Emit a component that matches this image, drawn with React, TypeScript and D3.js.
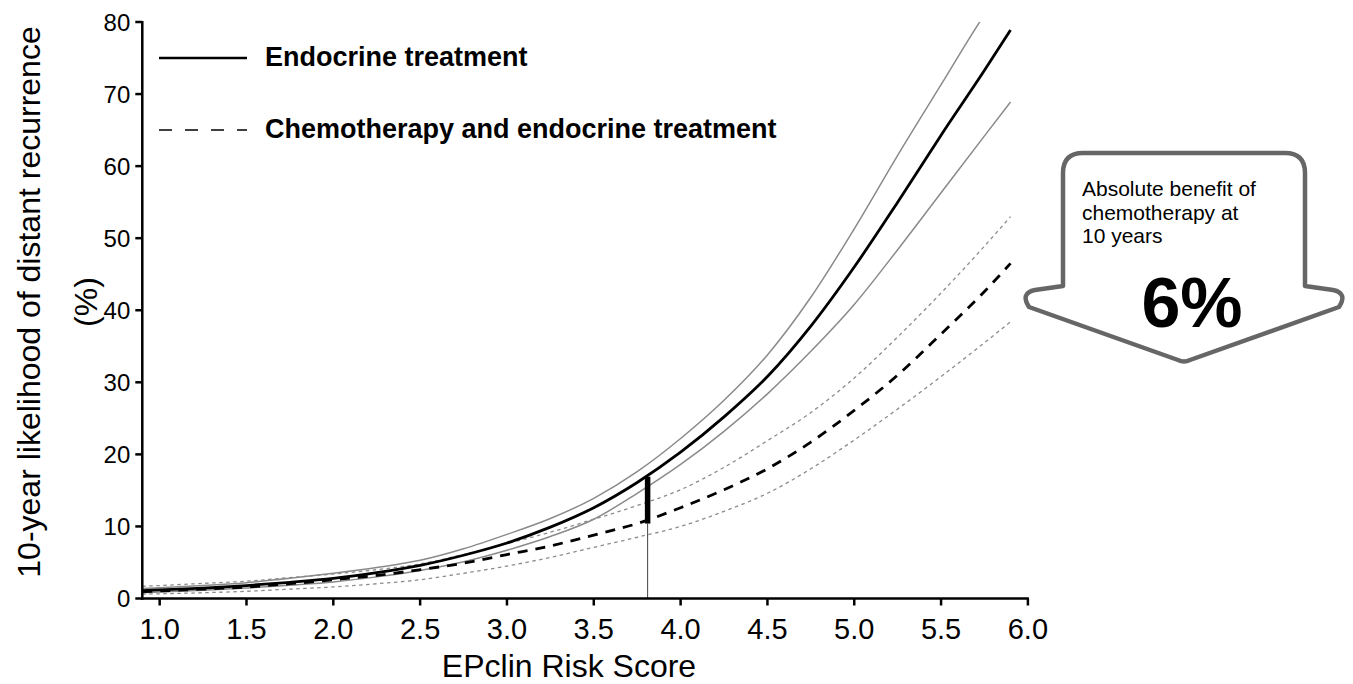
import React from "react";
import * as d3 from "d3";

// ---- data ----
const scores = [0.9, 1.0, 1.25, 1.5, 1.75, 2.0, 2.25, 2.5, 2.75, 3.0, 3.25, 3.5, 3.75, 4.0, 4.25, 4.5, 4.75, 5.0, 5.25, 5.5, 5.75, 5.9];
const endocrine = [1.1, 1.2, 1.45, 1.8, 2.25, 2.8, 3.6, 4.6, 6.0, 7.7, 9.9, 12.6, 16.1, 20.3, 25.2, 30.8, 37.8, 46.0, 55.0, 64.3, 73.3, 78.9];
const endocrineUpper = [1.4, 1.5, 1.8, 2.2, 2.8, 3.5, 4.3, 5.3, 6.9, 8.9, 11.1, 13.9, 17.6, 22.2, 27.5, 33.8, 41.8, 51.3, 61.5, 71.3, 81.0, 86.0];
const endocrineLower = [0.8, 0.9, 1.15, 1.45, 1.85, 2.3, 3.0, 3.9, 5.1, 6.7, 8.6, 11.0, 14.6, 18.6, 23.2, 28.4, 34.3, 40.8, 48.4, 56.3, 64.2, 68.9];
const chemo = [0.95, 1.05, 1.3, 1.6, 2.05, 2.6, 3.2, 4.0, 4.9, 6.1, 7.3, 8.8, 10.4, 12.6, 15.1, 18.0, 21.7, 26.1, 31.0, 36.7, 42.6, 46.5];
const chemoUpper = [1.7, 1.8, 2.1, 2.4, 2.9, 3.4, 4.0, 4.8, 6.1, 7.6, 9.2, 11.0, 12.9, 15.1, 18.2, 21.9, 25.8, 30.6, 36.3, 42.4, 48.9, 53.0];
const chemoLower = [0.6, 0.65, 0.8, 1.0, 1.3, 1.6, 2.05, 2.6, 3.5, 4.5, 5.7, 7.1, 8.5, 10.0, 12.1, 14.6, 18.0, 22.0, 26.3, 30.8, 35.5, 38.4];

const xTicks = [1.0, 1.5, 2.0, 2.5, 3.0, 3.5, 4.0, 4.5, 5.0, 5.5, 6.0];
const yTicks = [0, 10, 20, 30, 40, 50, 60, 70, 80];

const markerScore = 3.81;
const markerEndocrine = 16.9;
const markerChemo = 10.4;

const legendLabels = ["Endocrine treatment", "Chemotherapy and endocrine treatment"];
const calloutLines = ["Absolute benefit of", "chemotherapy at", "10 years"];
const calloutValue = "6%";

const FONT = "'Liberation Sans', Arial, Helvetica, sans-serif";

export default function App() {
  const W = 1353;
  const H = 684;
  const x = d3.scaleLinear().domain([0.9, 6.0]).range([142.3, 1027.9]);
  const y = d3.scaleLinear().domain([0, 80]).range([598.5, 22]);

  const line = (vals: number[]) =>
    d3
      .line<number>()
      .x((_, i) => x(scores[i]))
      .y((d) => y(d))
      .curve(d3.curveMonotoneX)(vals) as string;

  const x0 = x.range()[0];
  const x1 = x.range()[1];
  const yb = y(0);
  const yt = y(80);

  return (
    <svg
      width={W}
      height={H}
      style={{ position: "absolute", left: 0, top: 0, background: "#fff" }}
      fontFamily={FONT}
    >
      <defs>
        <clipPath id="plotClip">
          <rect x={x0} y={yt} width={x1 - x0 + 10} height={yb - yt} />
        </clipPath>
      </defs>

      <g clipPath="url(#plotClip)" fill="none">
        <path d={line(chemoUpper)} stroke="#8c8c8c" strokeWidth={1.3} strokeDasharray="3.5,3.5" />
        <path d={line(chemoLower)} stroke="#8c8c8c" strokeWidth={1.3} strokeDasharray="3.5,3.5" />
        <path d={line(endocrineUpper)} stroke="#8a8a8a" strokeWidth={1.5} />
        <path d={line(endocrineLower)} stroke="#8a8a8a" strokeWidth={1.5} />
        <path d={line(chemo)} stroke="#000" strokeWidth={2.8} strokeDasharray="10,8" />
        <path d={line(endocrine)} stroke="#000" strokeWidth={2.8} />
      </g>

      {/* marker at score */}
      <line x1={x(markerScore)} x2={x(markerScore)} y1={yb} y2={y(markerChemo)} stroke="#444" strokeWidth={1} />
      <line x1={x(markerScore)} x2={x(markerScore)} y1={y(markerChemo)} y2={y(markerEndocrine)} stroke="#000" strokeWidth={5.5} />

      {/* axes */}
      <g stroke="#000" strokeWidth={2.5}>
        <line x1={x0} x2={x0} y1={yt - 1} y2={yb + 1.2} />
        <line x1={x0 - 1.2} x2={x1 + 1} y1={yb} y2={yb} />
        {yTicks.map((t) => (
          <line key={"yt" + t} x1={x0 - 7} x2={x0} y1={y(t)} y2={y(t)} />
        ))}
        {xTicks.map((t) => (
          <line key={"xt" + t} x1={x(t)} x2={x(t)} y1={yb} y2={yb + 7} />
        ))}
      </g>
      {yTicks.map((t) => (
        <text key={"yl" + t} x={x0 - 12} y={y(t)} dy="0.36em" textAnchor="end" fontSize={24} fill="#000">
          {t}
        </text>
      ))}
      {xTicks.map((t) => (
        <text key={"xl" + t} x={x(t)} y={639} textAnchor="middle" fontSize={29} fill="#000">
          {t.toFixed(1)}
        </text>
      ))}

      {/* axis titles */}
      <text x={569} y={677} textAnchor="middle" fontSize={32} fill="#000">
        EPclin Risk Score
      </text>
      <g transform="translate(40,302) rotate(-90)">
        <text x={0} y={0} textAnchor="middle" fontSize={32} fill="#000">
          10-year likelihood of distant recurrence
        </text>
      </g>
      <g transform="translate(97,302) rotate(-90)">
        <text x={0} y={0} textAnchor="middle" fontSize={32} fill="#000">
          (%)
        </text>
      </g>

      {/* legend */}
      <line x1={159} x2={247} y1={58} y2={58} stroke="#000" strokeWidth={2.5} />
      <text x={265} y={66} fontSize={27} fontWeight="bold" fill="#000">
        {legendLabels[0]}
      </text>
      <line x1={159} x2={247} y1={130} y2={130} stroke="#000" strokeWidth={1.5} strokeDasharray="13,13" />
      <text x={265} y={138} fontSize={27} fontWeight="bold" fill="#000">
        {legendLabels[1]}
      </text>

      {/* callout arrow */}
      <path
        d="M1083,153 H1285 Q1305,153 1305,173 V286 L1333,290 Q1348,293 1339,307 L1190,360 Q1184,363 1178,360 L1029,307 Q1020,293 1035,290 L1063,286 V173 Q1063,153 1083,153 Z"
        fill="#fff"
        stroke="#666"
        strokeWidth={4.5}
        strokeLinejoin="round"
      />
      {calloutLines.map((s, i) => (
        <text key={"cl" + i} x={1082} y={196 + i * 23.5} fontSize={21} fill="#000">
          {s}
        </text>
      ))}
      <text x={1192} y={327} textAnchor="middle" fontSize={70} fontWeight="bold" fill="#000">
        {calloutValue}
      </text>
    </svg>
  );
}
